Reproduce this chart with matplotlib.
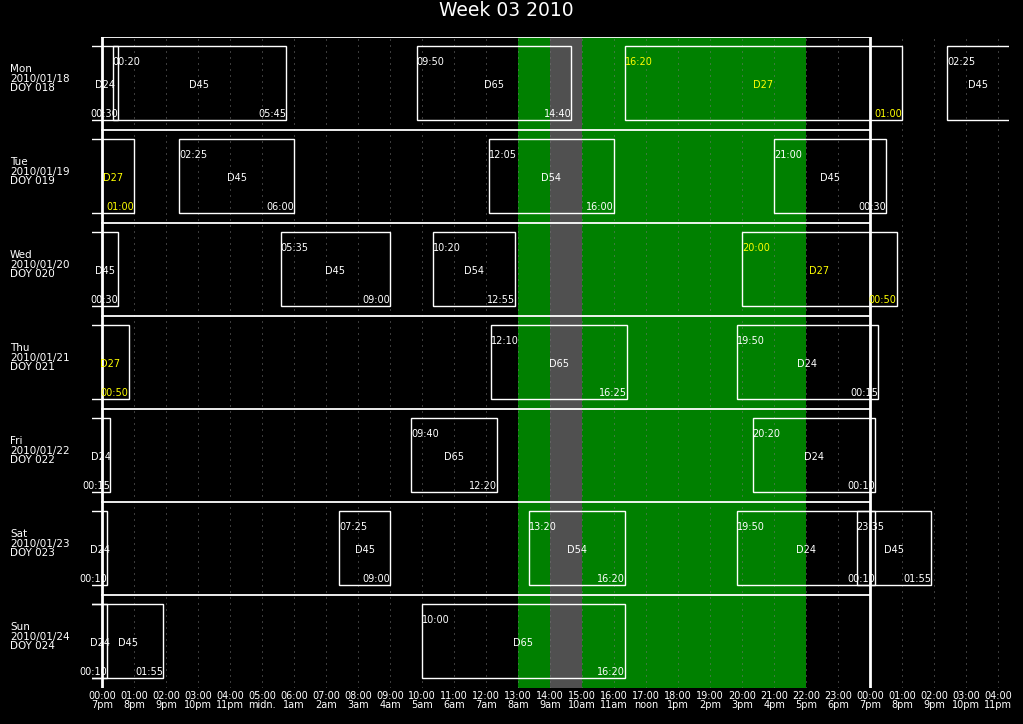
import matplotlib
matplotlib.use("Agg")
import matplotlib.pyplot as plt
import matplotlib.transforms as mtransforms
from matplotlib.patches import Rectangle

# Jours de la semaine (UTC)
jours = ["Mon", "Tue", "Wed", "Thu", "Fri", "Sat", "Sun"]
dates = ["2010/01/18", "2010/01/19", "2010/01/20", "2010/01/21",
         "2010/01/22", "2010/01/23", "2010/01/24"]
doy = ["018", "019", "020", "021", "022", "023", "024"]

# Passages : jour de début (index), station, début, fin (UTC)
# le premier passage commence le 2010/01/17, hors du graphique
pass_jour = [-1, 0, 0, 0, 1, 1, 1, 2, 2, 2, 3, 3, 4, 4, 5, 5, 5, 5, 6]
pass_station = ["D24", "D45", "D65", "D27", "D45", "D54", "D45", "D45", "D54", "D27",
                "D65", "D24", "D65", "D24", "D45", "D54", "D24", "D45", "D65"]
pass_debut = ["20:00", "00:20", "09:50", "16:20", "02:25", "12:05", "21:00", "05:35", "10:20", "20:00",
              "12:10", "19:50", "09:40", "20:20", "07:25", "13:20", "19:50", "23:35", "10:00"]
pass_fin = ["00:30", "05:45", "14:40", "01:00", "06:00", "16:00", "00:30", "09:00", "12:55", "00:50",
            "16:25", "00:15", "12:20", "00:10", "09:00", "16:20", "00:10", "01:55", "16:20"]

# Plages horaires colorées
zone_verte = (13, 22)
zone_grise = (14, 15)

# Étiquettes de l'axe horaire
heures_utc = list(range(29))
heures_locales = ["7pm", "8pm", "9pm", "10pm", "11pm", "midn.", "1am", "2am", "3am", "4am",
                  "5am", "6am", "7am", "8am", "9am", "10am", "11am", "noon", "1pm", "2pm",
                  "3pm", "4pm", "5pm", "6pm", "7pm", "8pm", "9pm", "10pm", "11pm"]

titre = "Week 03 2010"


def en_heures(txt):
    h, m = txt.split(":")
    return int(h) + int(m) / 60.0


W, H = 1023, 724
fig = plt.figure(figsize=(W / 100, H / 100), dpi=100, facecolor="black")
ax = fig.add_axes([92 / W, 36 / H, (1009 - 92) / W, 651 / H], facecolor="black")
xmin, xmax = -10 / 32, (1009 - 102) / 32
ax.set_xlim(xmin, xmax)
ax.set_ylim(7, 0)
for s in ax.spines.values():
    s.set_visible(False)

ax.axvspan(*zone_verte, color="#008000", lw=0, zorder=0)
ax.axvspan(*zone_grise, color="#505050", lw=0, zorder=0)

# Grille horaire pointillée
for h in heures_utc[1:]:
    if h != 24:
        ax.axvline(h, color="#777777", ls=(0, (1, 5)), lw=0.72, zorder=1)

# Cadre
ax.plot([0, 0], [0, 7], color="white", lw=2, zorder=3)
ax.plot([24, 24], [0, 7], color="white", lw=2, zorder=3)
for r in range(7):
    ax.plot([0, 24], [r, r], color="white", lw=1.3, zorder=3)

haut, bas = 0.097, 0.892
for r in range(7):
    for j, stn, deb, fin in zip(pass_jour, pass_station, pass_debut, pass_fin):
        t0 = en_heures(deb) + (j - r) * 24
        t1 = en_heures(fin) + (j - r) * 24
        if en_heures(fin) < en_heures(deb):
            t1 += 24
        if t1 <= xmin or t0 >= xmax:
            continue
        coul = "#ffff00" if stn == "D27" else "white"
        ax.add_patch(Rectangle((t0, r + haut), t1 - t0, bas - haut, fill=False,
                               edgecolor="white", lw=1, zorder=4))
        c0, c1 = max(t0, xmin), min(t1, xmax)
        ax.text((c0 + c1) / 2, r + 0.513, stn, color=coul, fontsize=7,
                ha="center", va="center", zorder=5)
        if t0 >= xmin:
            ax.text(t0, r + 0.27, deb, color=coul, fontsize=7,
                    ha="left", va="center", zorder=5)
        if t1 <= xmax:
            ax.text(t1, r + 0.83, fin, color=coul, fontsize=7,
                    ha="right", va="center", zorder=5)

# Libellés des jours
trans = mtransforms.blended_transform_factory(fig.transFigure, ax.transData)
for r in range(7):
    ax.text(10 / W, r + 0.45, f"{jours[r]}\n{dates[r]}\nDOY {doy[r]}", transform=trans,
            color="white", fontsize=7.5, ha="left", va="center", linespacing=0.95)

ax.set_xticks(heures_utc)
ax.set_xticklabels([f"{h % 24:02d}:00\n{l}" for h, l in zip(heures_utc, heures_locales)],
                   color="white", fontsize=7, linespacing=0.95)
ax.tick_params(axis="x", length=0, pad=2)
ax.set_yticks([])

fig.text(506 / W, 1 - 11 / H, titre, color="white", fontsize=13.5,
         ha="center", va="center")

fig.savefig("out.png", dpi=100, facecolor="black")
